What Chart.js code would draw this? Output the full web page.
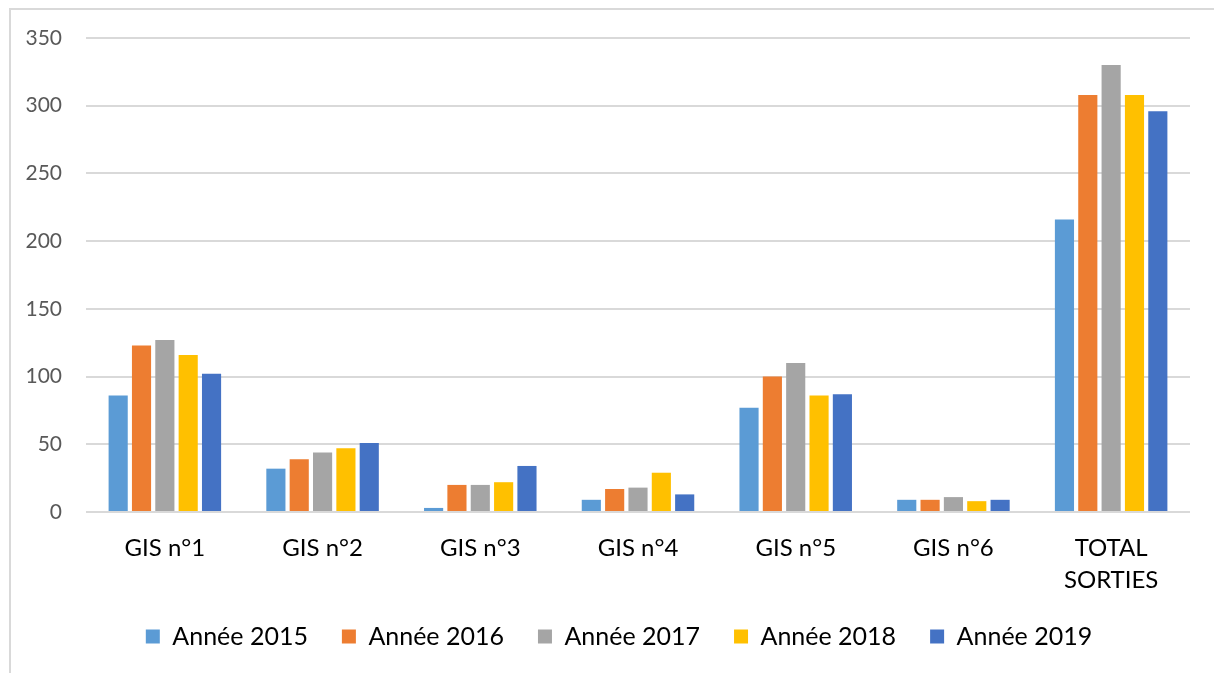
<!DOCTYPE html>
<html>
<head>
<meta charset="utf-8">
<script src="https://cdn.jsdelivr.net/npm/chart.js@4/dist/chart.umd.min.js"></script>
<style>
  html, body { margin: 0; padding: 0; background: #fff; }
  #frame {
    position: absolute; left: 9px; top: 8px; width: 1220px; height: 680px;
    border-left: 2px solid #d9d9d9; border-top: 2px solid #d9d9d9;
  }
  #wrap { position: absolute; left: 0; top: 0; width: 1214px; height: 673px; }
</style>
</head>
<body>
<div id="frame"></div>
<div id="wrap"><canvas id="chart" width="1214" height="673"></canvas></div>
<script>
const categories = ['GIS n°1', 'GIS n°2', 'GIS n°3', 'GIS n°4', 'GIS n°5', 'GIS n°6', ['TOTAL', 'SORTIES']];
const years = ['Année 2015', 'Année 2016', 'Année 2017', 'Année 2018', 'Année 2019'];
const values2015 = [86, 32, 3, 9, 77, 9, 216];
const values2016 = [123, 39, 20, 17, 100, 9, 308];
const values2017 = [127, 44, 20, 18, 110, 11, 330];
const values2018 = [116, 47, 22, 29, 86, 8, 308];
const values2019 = [102, 51, 34, 13, 87, 9, 296];
const yTicks = [0, 50, 100, 150, 200, 250, 300, 350];

const colors = ['#5B9BD5', '#ED7D31', '#A5A5A5', '#FFC000', '#4472C4'];
const series = [values2015, values2016, values2017, values2018, values2019];

const FONT = 'Lato, "Open Sans", sans-serif';

// the legend in the original sits a little right of centre
const legendShift = {
    id: 'legendShift',
    afterLayout(chart) {
        chart.legend.left += 14;
        chart.legend.right += 14;
    }
};

new Chart(document.getElementById('chart').getContext('2d'), {
    type: 'bar',
    data: {
        labels: categories,
        datasets: series.map((vals, i) => ({
            label: years[i],
            data: vals,
            backgroundColor: colors[i],
            borderWidth: 0,
            categoryPercentage: 0.74,
            barPercentage: 0.82
        }))
    },
    options: {
        responsive: false,
        animation: false,
        layout: { padding: { left: 20, right: 24, top: 38, bottom: 14 } },
        scales: {
            x: {
                grid: { display: false },
                border: { display: false },
                ticks: {
                    color: '#000',
                    font: { family: FONT, size: 24, lineHeight: 1.3 },
                    padding: 13,
                    maxRotation: 0,
                    autoSkip: false
                },
                afterFit: function(scale) { scale.height = 78; }
            },
            y: {
                min: 0,
                max: 350,
                afterBuildTicks: function(scale) {
                    scale.ticks = yTicks.map(v => ({ value: v }));
                },
                grid: { color: '#d9d9d9', lineWidth: 2, drawTicks: false },
                border: { display: false },
                ticks: {
                    color: '#595959',
                    font: { family: FONT, size: 21 },
                    padding: 24
                },
                afterFit: function(scale) { scale.width = 66; }
            }
        },
        plugins: {
            legend: {
                position: 'bottom',
                labels: {
                    color: '#000',
                    font: { family: FONT, size: 25 },
                    boxWidth: 14,
                    boxHeight: 14,
                    padding: 34
                }
            },
            tooltip: { enabled: false }
        }
    },
    plugins: [legendShift]
});
</script>
</body>
</html>
